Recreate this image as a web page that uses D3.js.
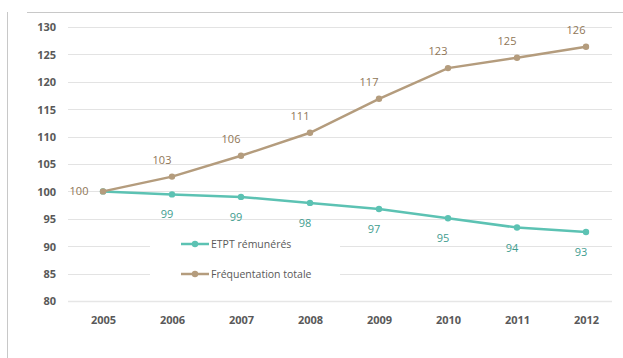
<!DOCTYPE html>
<html><head><meta charset="utf-8">
<script src="https://cdn.jsdelivr.net/npm/d3@7"></script>
<style>body{margin:0;background:#fff}svg{display:block}</style>
</head><body>
<svg id="c" width="623" height="358"></svg>
<script>
const years = ["2005","2006","2007","2008","2009","2010","2011","2012"];
const frequentation = [100, 102.7, 106.5, 110.7, 116.9, 122.5, 124.4, 126.4];
const etpt = [100, 99.45, 99.0, 97.9, 96.8, 95.1, 93.4, 92.6];
const frequentationLabels = ["100","103","106","111","117","123","125","126"];
const etptLabels = ["100","99","99","98","97","95","94","93"];
const yTicks = [80,85,90,95,100,105,110,115,120,125,130];
const seriesNames = ["ETPT rémunérés","Fréquentation totale"];

const svg = d3.select("#c");
const font = "'Open Sans', sans-serif";
const teal = "#5cc2b3", brown = "#b49c7d";
const tealText = "#3f9d8f", brownText = "#8f7656";

// frame lines
svg.append("line").attr("x1",27).attr("x2",623).attr("y1",12.5).attr("y2",12.5).attr("stroke","#c8c8c8");
svg.append("line").attr("x1",7.5).attr("x2",7.5).attr("y1",12).attr("y2",358).attr("stroke","#c8c8c8");

const x = d3.scalePoint().domain(years).range([103,586]);
const y = d3.scaleLinear().domain([80,130]).range([301,27]);

// gridlines
svg.append("g").selectAll("line").data(yTicks).join("line")
  .attr("x1",68).attr("x2",612)
  .attr("y1",d=>Math.round(y(d))+0.5).attr("y2",d=>Math.round(y(d))+0.5)
  .attr("stroke",d=>d===80?"#e6e6e6":"#e3e3e3").attr("stroke-width",d=>d===80?1.5:1);

// y axis labels
const yAxis = d3.axisLeft(y).tickValues(yTicks).tickSize(0).tickPadding(0);
const gy = svg.append("g").attr("transform","translate(56,0)").call(yAxis);
gy.select(".domain").remove();
gy.selectAll("text").attr("font-family",font).attr("font-size","11px").attr("font-weight","bold").attr("fill","#595959").attr("dy","0.35em");

// x axis labels
const xAxis = d3.axisBottom(x).tickSize(0).tickPadding(0);
const gx = svg.append("g").attr("transform","translate(0,316)").call(xAxis);
gx.select(".domain").remove();
gx.selectAll("text").attr("font-family",font).attr("font-size","11px").attr("font-weight","bold").attr("fill","#595959").attr("dy","0.71em");

// legend background
svg.append("rect").attr("x",150).attr("y",231).attr("width",190).attr("height",56).attr("fill","#fff");

const line = d3.line().x((d,i)=>x(years[i])).y(d=>y(d));

function drawSeries(vals, color){
  svg.append("path").datum(vals).attr("d",line).attr("fill","none").attr("stroke",color).attr("stroke-width",2.5);
  svg.append("g").selectAll("circle").data(vals).join("circle")
    .attr("cx",(d,i)=>x(years[i])).attr("cy",d=>y(d)).attr("r",3.2).attr("fill",color);
}
drawSeries(etpt, teal);
drawSeries(frequentation, brown);

// data labels
svg.append("g").selectAll("text").data(frequentation).join("text")
  .attr("x",(d,i)=> i===0 ? x(years[i]) - 24 : x(years[i]) - 10)
  .attr("y",(d,i)=> i===0 ? y(d) + 4 : y(d) - 13)
  .attr("text-anchor","middle").attr("font-family",font).attr("font-size","11px").attr("fill",brownText)
  .text((d,i)=>frequentationLabels[i]);

svg.append("g").selectAll("text").data(etpt).join("text")
  .filter((d,i)=>i>0)
  .attr("x",(d,i)=> x(years[i+1]) - 5)
  .attr("y",(d,i)=> y(etpt[i+1]) + 24)
  .attr("text-anchor","middle").attr("font-family",font).attr("font-size","11px").attr("fill",tealText)
  .text((d,i)=>etptLabels[i+1]);

// legend
const legColors = [teal, brown];
const leg = svg.append("g").selectAll("g").data(seriesNames).join("g")
  .attr("transform",(d,i)=>`translate(181,${244 + i*30})`);
leg.append("line").attr("x1",0).attr("x2",28).attr("stroke",(d,i)=>legColors[i]).attr("stroke-width",2.5);
leg.append("circle").attr("cx",14).attr("r",3.2).attr("fill",(d,i)=>legColors[i]);
leg.append("text").attr("x",30).attr("dy","0.35em").attr("font-family",font).attr("font-size","10.5px").attr("fill","#595959").text(d=>d);
</script>
</body></html>
